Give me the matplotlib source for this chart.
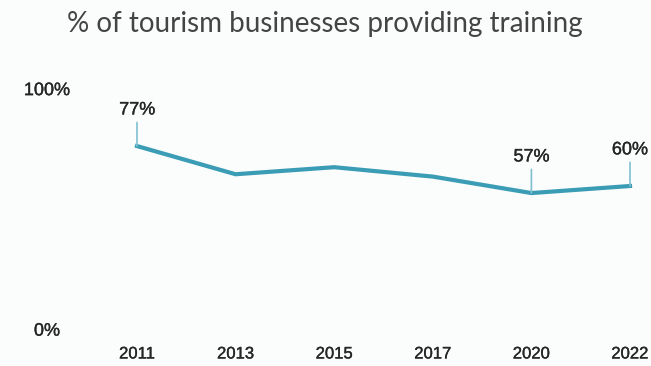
import matplotlib.pyplot as plt
import matplotlib.patheffects as pe
from matplotlib.transforms import blended_transform_factory

# Share of tourism businesses providing training, by survey year
years = ["2011", "2013", "2015", "2017", "2020", "2022"]
share = [77, 65, 68, 64, 57, 60]
labelled = [0, 4, 5]
y_ticks = [0, 100]
y_tick_labels = ["0%", "100%"]

line_color = "#3a9db5"
text_color = "#262626"
bg = "#fbfcfc"
# slightly heavier strokes for the small labels
heavy = [pe.withStroke(linewidth=0.25, foreground=text_color)]

fig = plt.figure(figsize=(6.51, 3.66), dpi=100, facecolor=bg)
W, H = 651, 366
ax = fig.add_axes([100 / W, (H - 327) / H, (W - 100) / W, (327 - 92) / H])
ax.set_facecolor(bg)

x = list(range(len(years)))
ax.plot(x, share, color=line_color, lw=3.0, solid_joinstyle="miter", clip_on=False, zorder=3)

# value callouts: thin stem above the point and the label on top
for i in labelled:
    ax.annotate("", xy=(x[i], share[i]), xytext=(0, 17), textcoords="offset points",
                arrowprops=dict(arrowstyle="-", color="#7fc0d0", lw=1.2, shrinkA=0, shrinkB=0))
    ax.annotate(f"{share[i]}%", xy=(x[i], share[i]), xytext=(0, 26), textcoords="offset points",
                ha="center", va="center", fontsize=13, family="Liberation Sans",
                color=text_color, path_effects=heavy)

ax.set_xlim(-37 / 98.6, 5 + 21 / 98.6)
ax.set_ylim(0, 100)
ax.set_xticks(x)
ax.set_xticklabels(years, fontsize=12, family="Liberation Sans", color=text_color)
for t in ax.get_xticklabels():
    t.set_path_effects(heavy)
ax.tick_params(axis="x", length=0, pad=14)
ax.set_yticks([])

# y labels sit off to the left, centred on a fixed column
tr = blended_transform_factory(fig.transFigure, ax.transData)
for v, lab in zip(y_ticks, y_tick_labels):
    dy = -3 if v == 0 else 1
    ax.annotate(lab, xy=(47 / W, v), xycoords=tr, xytext=(0, dy), textcoords="offset points",
                ha="center", va="center", fontsize=13, family="Liberation Sans",
                color=text_color, path_effects=heavy)

for s in ax.spines.values():
    s.set_visible(False)

fig.text(325 / W, 1 - 24 / H, "% of tourism businesses providing training", ha="center", va="center",
         fontsize=20, family="Lato", color="#444444")

fig.savefig("out.png", dpi=100, facecolor=bg)
